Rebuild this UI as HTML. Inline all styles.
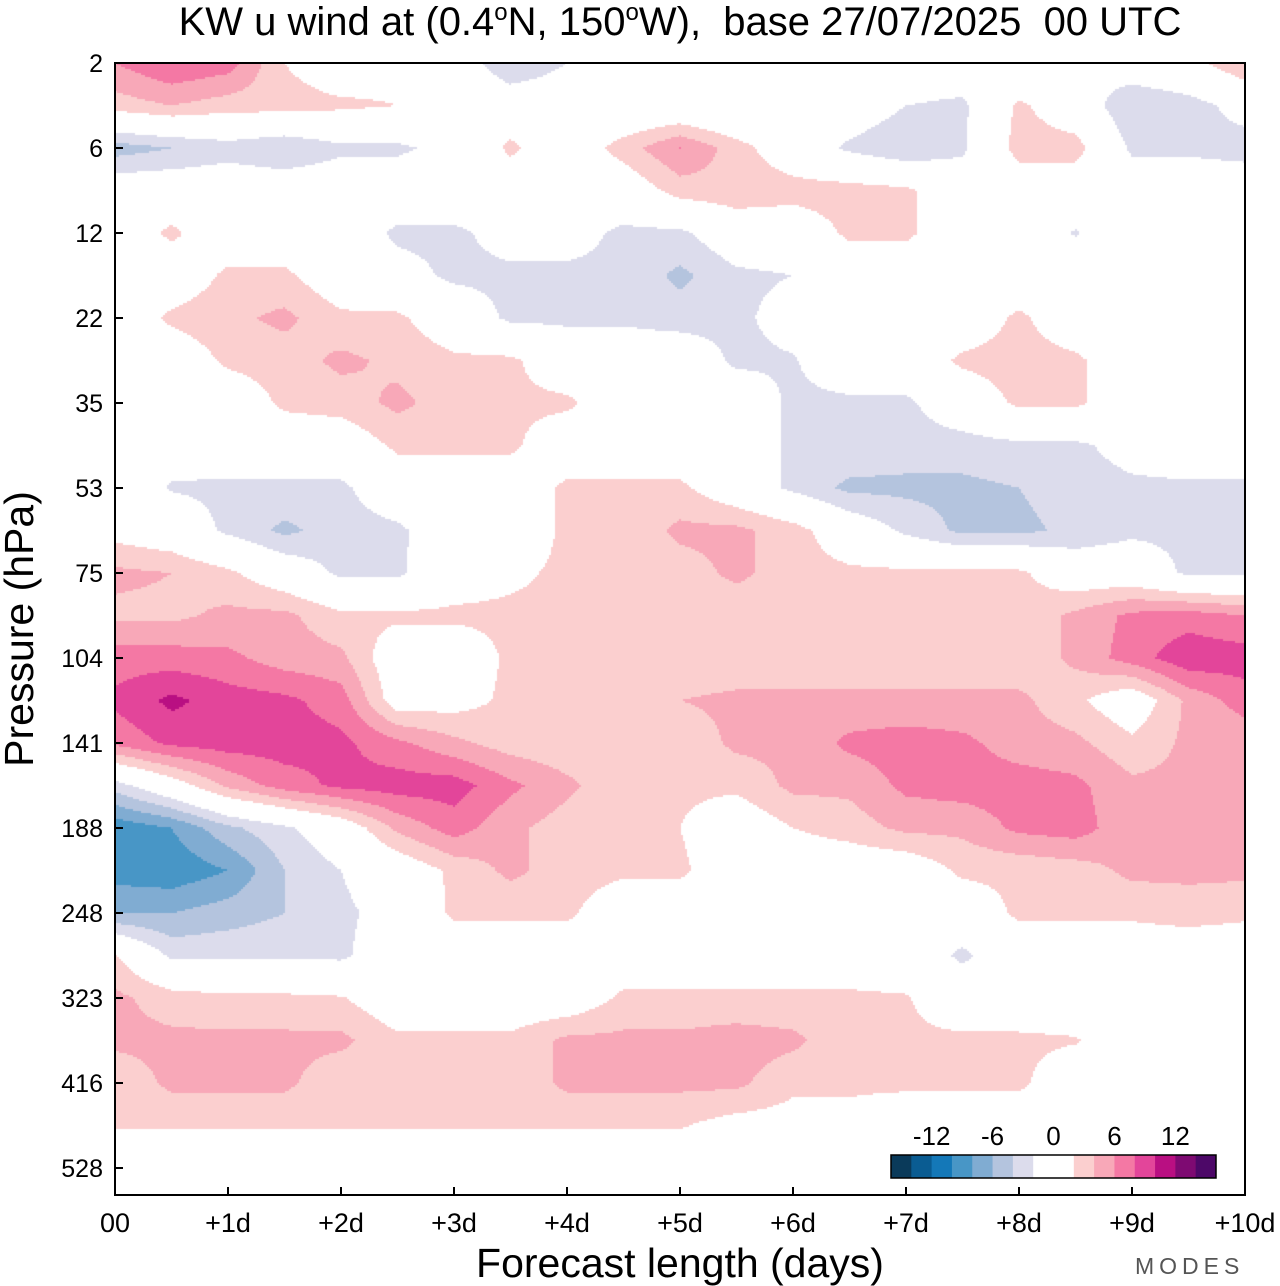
<!DOCTYPE html>
<html><head><meta charset="utf-8"><style>
html,body{margin:0;padding:0;background:#fff;width:1280px;height:1286px;overflow:hidden;font-family:"Liberation Sans",sans-serif}
#wrap{position:relative;width:1280px;height:1286px}
#plot{position:absolute;left:115px;top:63px}
svg{position:absolute;left:0;top:0}
text{white-space:pre}
</style></head><body>
<div id="wrap">
<canvas id="plot" width="1130" height="1132"></canvas>
<svg id="ov" width="1280" height="1286"></svg>
</div>
<script>
const days = [0,0.5,1,1.5,2,2.5,3,3.5,4,4.5,5,5.5,6,6.5,7,7.5,8,8.5,9,9.5,10];
const pressureTicks = ["2","6","12","22","35","53","75","104","141","188","248","323","416","528"];
const dayTicks = ["00","+1d","+2d","+3d","+4d","+5d","+6d","+7d","+8d","+9d","+10d"];
const levels = [-16,-14,-12,-10,-8,-6,-4,-2,2,4,6,8,10,12,14,16];
const bandColors = ["#0a3a5a","#0a5c92","#1478b8","#4896c6","#80acd2","#b4c4de","#dcdcec","#ffffff","#fbcfcf","#f8a8b8","#f478a4","#e3459a","#b90f82","#7e0a72","#4d0868"];
const cbLabels = ["-12","-6","0","6","12"];
const cbLabelVals = [-12,-6,0,6,12];
// u wind rows (each row = half pressure-tick step), columns = days
const u00=[6,8,7,2,0,1,0,-4,-2,0,0,0,2,0,0,0,-2,-2,0,1,4];
const u01=[3,4,3,3,2.5,2,1,0,0,-1,-1,-2,0,0,-2,-2.5,2.5,0,-4,-3,-1];
const u02=[-5,-4,-3,-4,-2.5,-2.5,-1,2.5,0,3,6,3,0,-2.5,-4,-2.5,3,3,-2.5,-2.5,-3];
const u03=[0,0,0,0,0,0,0,0,0,0,3,3.5,3,3,2.5,0,0,0,0,0,0];
const u04=[0,2.5,0,0,0,-2.5,-2.5,-1,-1,-2.5,-2.5,0,0,2.5,2.5,0,0,-2.2,0,0,0];
const u05=[0,0,2.5,2.5,0,-1,-2.5,-2.5,-2.5,-2.5,-4.5,-2.5,-2,0,0,0,0,0,0,0,0];
const u06=[0,2.5,3.5,4.5,2.5,2.5,0,-2.5,-2.5,-2.5,-3,-2.5,-1,0,0,0,2.5,0,0,0,0];
const u07=[0,0,2.5,3,4.5,3.5,2.5,2.5,0,0,0,-2.5,-2.2,0,0,2.5,3,2.5,0,0,0];
const u08=[0,0,0,2.5,3,4.5,3,2.5,2.5,0,0,0,-2.5,-2.5,-2.5,0,2.5,2.5,0,0,1];
const u09=[0,-1,0,0,0,2.5,2.5,2.5,0,0,0,0,-2.5,-2.5,-3,-3,-2.5,-2.5,-1,0,0];
const u10=[0,-2.2,-2.5,-2.5,-2.5,0,0,0,2.5,2.5,2.5,0,-2.5,-4.5,-4.5,-4.5,-4,-3,-2.5,-2.5,-2.5];
const u11=[1,0,-2.5,-4.5,-3,-2.5,0,0,2.5,2.5,4.5,4.5,3,0,-2.5,-4.5,-4.5,-3.5,-2.5,-2.5,-2.5];
const u12=[4.5,4,2.5,0,-2.5,-2.5,0.5,1.5,2.5,2.5,3,4.5,3,2.5,2.5,2.5,2.5,0,0,-2.5,-2.5];
const u13=[3.5,3.5,4.5,4.5,2.5,2.5,2.5,2.5,2.5,2.5,2.5,2.5,2.5,2.5,2.5,2.5,2.5,4.5,6.5,7,6];
const u14=[7,7,6.5,5,4.5,0,0,2.5,2.5,2.5,2.5,2.5,2.5,2.5,2.5,2.5,2.5,4.5,7,9.5,9];
const u15=[8.5,10.5,9,8.5,7,0.5,1,2.5,2.5,2.5,4,4.5,4.5,4.5,4.5,4.5,4.5,2.5,0,4.5,7];
const u16=[6.5,8.5,9,9,8.5,6.5,4.5,3,2.5,2.5,2.5,4.5,4.5,6.5,7,6.5,5,4.5,2.5,4.5,4.5];
const u17=[-3,0.5,4.5,7,8.5,9,9,6.5,4.5,2.5,2.5,2.5,4.5,4.5,6.5,7,7,6.5,4.5,4.5,4.5];
const u18=[-9.5,-8,-4.5,-2.5,0,4.5,7,4.5,3,2.5,2,0,2,3,4.5,4.5,6.5,7,4.5,4.5,4.5];
const u19=[-9,-9.5,-8,-4,-2,0,2.5,4.5,3,2.5,2.5,0,0,0,0,2.5,2.5,3,4.5,4.5,4.5];
const u20=[-6,-6,-5,-4,-2.5,-1,2.5,2.5,2.5,0,0,0,0,0,0,0,2.5,2.5,2.5,3,2.5];
const u21=[2.2,-2.5,-2.5,-2.5,-2.5,0,0,0,0,0,0,0,0,0,0,-2.5,0,0,0,0,0];
const u22=[4.5,3,2.5,2.5,2.2,0,0,0,0,2.5,2.5,2.5,2.5,2.5,2.2,0,0,0,0,0,0];
const u23=[4.5,4.5,4.5,4.5,4.5,2.5,2.5,2.5,4.5,4.5,4.5,5,4.5,2.5,2.5,2.5,2.5,2.2,0,0,0];
const u24=[2.5,4.5,4.5,4.5,2.5,2.5,2.5,2.5,4.5,4.5,4.5,4.5,2.5,2.5,2.5,2.5,2.5,0,0,0,0];
const u25=[2.2,2.2,2.2,2.2,2.2,2.2,2.2,2.2,2.2,2.2,2.2,1,1,1,0,0,0,0,0,0,0];
const u26=[0,0,0,0,0,0,0,0,0,0,0,0,0,0,0,0,0,0,0,0,0];
const u27=[0,0,-2.2,-2.2,0,0,0,0,0,0,0,0,0,0,0,0,0,0,0,0,0];
const uGrid=[u00,u01,u02,u03,u04,u05,u06,u07,u08,u09,u10,u11,u12,u13,u14,u15,u16,u17,u18,u19,u20,u21,u22,u23,u24,u25,u26,u27];

const X0=115,X1=1245,Y0=63,Y1=1195;
const xScale=d=>X0+(d-days[0])/(days[days.length-1]-days[0])*(X1-X0);
const tickStep=85;
const yScaleIdx=i=>Y0+i*tickStep;
function colorFor(v){
  for(let i=levels.length-1;i>=0;i--){ if(v>=levels[i]) return bandColors[Math.min(i,bandColors.length-1)]; }
  return bandColors[0];
}
const cv=document.getElementById('plot'),ctx=cv.getContext('2d');
const W=X1-X0,H=Y1-Y0,px=2,nR=uGrid.length,nC=days.length;
for(let yy=0;yy<H;yy+=px){
  const fr=Math.min((yy+px/2)/(tickStep/2),nR-1.0001);
  const r0=Math.floor(fr),tr=fr-r0;
  for(let xx=0;xx<W;xx+=px){
    const d=days[0]+(xx+px/2)/W*(days[nC-1]-days[0]);
    const fc=Math.min((d-days[0])/(days[1]-days[0]),nC-1.0001);
    const c0=Math.floor(fc),tc=fc-c0;
    const a=uGrid[r0][c0],b=uGrid[r0][c0+1],c=uGrid[r0+1][c0],e=uGrid[r0+1][c0+1];
    const v=(a*(1-tc)+b*tc)*(1-tr)+(c*(1-tc)+e*tc)*tr;
    ctx.fillStyle=colorFor(v);
    ctx.fillRect(xx,yy,px,px);
  }
}
const NS='http://www.w3.org/2000/svg',svg=document.getElementById('ov');
function mk(tag,attrs,text){const el=document.createElementNS(NS,tag);for(const k in attrs)el.setAttribute(k,attrs[k]);if(text!==undefined)el.textContent=text;svg.appendChild(el);return el;}
let el;
el=mk('rect',{x:X0,y:Y0,width:X1-X0,height:Y1-Y0,fill:'none',stroke:'#000','stroke-width':2});


el=mk('text',{x:680,y:35,'text-anchor':'middle','font-size':40,fill:'#000'});
el.innerHTML='KW u wind at (0.4<tspan dy="-15" font-size="24">o</tspan><tspan dy="15">N, 150</tspan><tspan dy="-15" font-size="24">o</tspan><tspan dy="15">W),  base 27/07/2025  00 UTC</tspan>';


pressureTicks.forEach((t,i)=>{
  const y=yScaleIdx(i);
  const tk=mk('line',{x1:X0,x2:X0+8,y1:y,y2:y,stroke:'#000','stroke-width':2});
  
  
  const lb=mk('text',{x:103,y:y+9,'text-anchor':'end','font-size':25,fill:'#000'},t);
  
  
});
dayTicks.forEach((t,i)=>{
  const x=xScale(i);
  const tk=mk('line',{x1:x,x2:x,y1:Y1,y2:Y1-8,stroke:'#000','stroke-width':2});
  
  
  const lb=mk('text',{x:x,y:1232,'text-anchor':'middle','font-size':27,fill:'#000'},t);
  
  
});
el=mk('text',{x:680,y:1277,'text-anchor':'middle','font-size':41,fill:'#000'},'Forecast length (days)');


el=mk('text',{x:0,y:0,'text-anchor':'middle','font-size':41,fill:'#000',transform:'translate(33,629) rotate(-90)'},'Pressure (hPa)');


el=mk('text',{x:1135,y:1274,'font-size':23,fill:'#555','letter-spacing':'5'},'MODES');


const cbX0=891,cbX1=1216,cbY=1155,cbH=23;
const cbScale=v=>cbX0+(v-levels[0])/(levels[levels.length-1]-levels[0])*(cbX1-cbX0);
const bands=[];for(let i=0;i<levels.length-1;i++)bands.push([levels[i],levels[i+1]]);
bands.forEach((b,i)=>{
  const r=mk('rect',{x:cbScale(b[0]),y:cbY,width:cbScale(b[1])-cbScale(b[0])+0.5,height:cbH,fill:bandColors[i]});
  
  
});
el=mk('rect',{x:cbX0,y:cbY,width:cbX1-cbX0,height:cbH,fill:'none',stroke:'#000','stroke-width':1.5});


cbLabels.forEach((t,i)=>{
  const lb=mk('text',{x:cbScale(cbLabelVals[i]),y:1145,'text-anchor':'middle','font-size':26,fill:'#000'},t);
  
  
});
</script>
</body></html>
